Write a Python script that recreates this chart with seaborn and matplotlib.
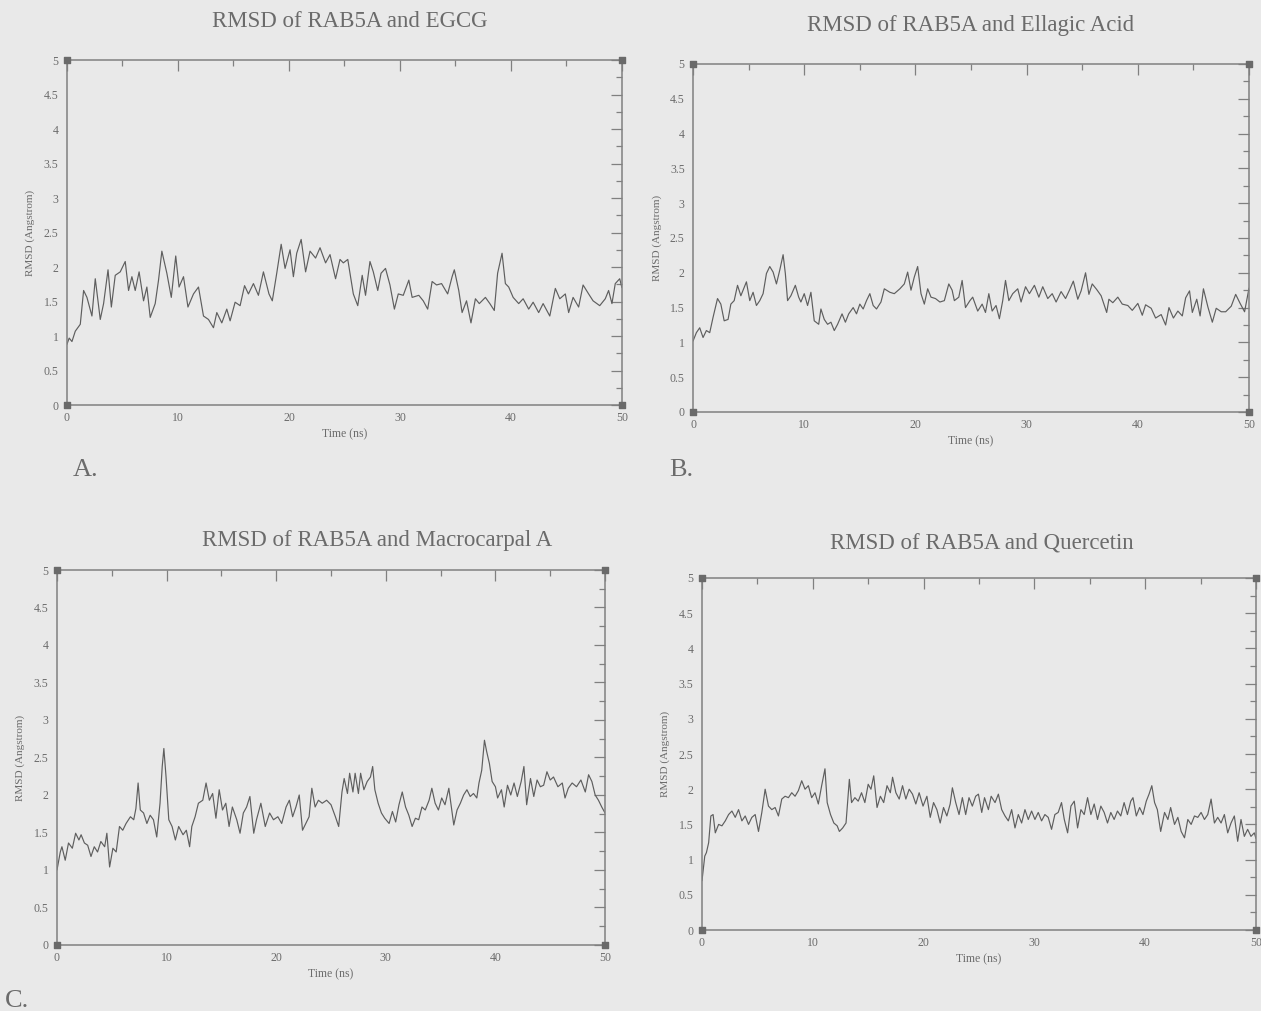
import matplotlib
matplotlib.use("Agg")
import matplotlib.pyplot as plt
from matplotlib.ticker import MultipleLocator, FuncFormatter
import seaborn as sns
import pandas as pd

# ---- RMSD traces (time in ns, RMSD in Angstrom) ----
time_egcg = [
    0.0, 0.2, 0.45, 0.75, 1.2, 1.5, 1.8, 2.25, 2.55, 3.0,
    3.3, 3.7, 4.0, 4.35, 4.8, 5.25, 5.55, 5.85, 6.15, 6.5,
    6.9, 7.2, 7.5, 7.95, 8.25, 8.55, 9.0, 9.4, 9.8, 10.1,
    10.5, 10.9, 11.4, 11.85, 12.3, 12.75, 13.2, 13.5, 13.95, 14.4,
    14.7, 15.15, 15.6, 16.0, 16.35, 16.8, 17.25, 17.7, 18.2, 18.5,
    18.9, 19.3, 19.65, 20.1, 20.4, 20.7, 21.1, 21.5, 21.9, 22.4,
    22.8, 23.3, 23.7, 24.2, 24.6, 24.9, 25.3, 25.8, 26.2, 26.6,
    26.9, 27.3, 27.6, 28.0, 28.3, 28.7, 29.1, 29.5, 29.85, 30.3,
    30.8, 31.1, 31.7, 32.1, 32.5, 32.9, 33.3, 33.75, 34.3, 34.7,
    34.9, 35.3, 35.6, 36.0, 36.4, 36.8, 37.15, 37.7, 38.1, 38.5,
    38.8, 39.2, 39.5, 39.8, 40.2, 40.7, 41.1, 41.6, 42.0, 42.5,
    42.9, 43.5, 44.0, 44.4, 44.9, 45.2, 45.6, 46.1, 46.5, 47.0,
    47.4, 48.0, 48.5, 48.8, 49.1, 49.4, 49.8, 50.0,
]
rmsd_egcg = [
    0.88, 0.97, 0.92, 1.07, 1.17, 1.66, 1.56, 1.29, 1.83, 1.24,
    1.47, 1.96, 1.42, 1.88, 1.93, 2.08, 1.66, 1.86, 1.66, 1.93,
    1.51, 1.71, 1.27, 1.47, 1.81, 2.23, 1.91, 1.56, 2.16, 1.71,
    1.86, 1.42, 1.61, 1.71, 1.29, 1.24, 1.12, 1.34, 1.19, 1.39,
    1.22, 1.49, 1.44, 1.73, 1.61, 1.76, 1.59, 1.93, 1.61, 1.51,
    1.91, 2.33, 1.98, 2.25, 1.86, 2.20, 2.40, 1.93, 2.23, 2.13,
    2.28, 2.06, 2.18, 1.83, 2.11, 2.06, 2.11, 1.61, 1.44, 1.88,
    1.59, 2.08, 1.93, 1.66, 1.91, 1.98, 1.74, 1.39, 1.61, 1.59,
    1.81, 1.56, 1.59, 1.51, 1.39, 1.79, 1.74, 1.76, 1.61, 1.86,
    1.96, 1.66, 1.34, 1.51, 1.19, 1.54, 1.47, 1.56, 1.47, 1.37,
    1.91, 2.20, 1.76, 1.71, 1.56, 1.47, 1.54, 1.39, 1.49, 1.34,
    1.47, 1.29, 1.69, 1.54, 1.61, 1.34, 1.56, 1.42, 1.74, 1.61,
    1.51, 1.44, 1.54, 1.66, 1.47, 1.76, 1.83, 1.70,
]

time_ellagic = [
    0.0, 0.3, 0.6, 0.9, 1.2, 1.5, 1.8, 2.2, 2.5, 2.8,
    3.15, 3.4, 3.7, 4.0, 4.3, 4.6, 4.8, 5.1, 5.4, 5.7,
    6.0, 6.3, 6.6, 6.9, 7.2, 7.5, 7.8, 8.1, 8.3, 8.5,
    8.8, 9.2, 9.5, 9.7, 10.0, 10.3, 10.6, 10.9, 11.3, 11.5,
    11.8, 12.1, 12.4, 12.7, 13.0, 13.4, 13.7, 14.0, 14.4, 14.7,
    15.0, 15.3, 15.6, 15.9, 16.2, 16.5, 16.9, 17.2, 17.7, 18.1,
    18.6, 19.0, 19.3, 19.6, 19.9, 20.2, 20.5, 20.8, 21.1, 21.4,
    21.8, 22.2, 22.6, 23.0, 23.3, 23.5, 23.9, 24.2, 24.5, 24.9,
    25.15, 25.6, 26.0, 26.3, 26.6, 26.9, 27.25, 27.55, 27.85, 28.1,
    28.4, 28.75, 29.2, 29.5, 29.9, 30.25, 30.7, 31.1, 31.45, 31.9,
    32.3, 32.65, 33.1, 33.5, 33.85, 34.2, 34.6, 34.9, 35.3, 35.6,
    35.9, 36.3, 36.7, 37.2, 37.4, 37.75, 38.2, 38.6, 39.1, 39.5,
    40.0, 40.4, 40.7, 41.2, 41.6, 42.1, 42.5, 42.8, 43.2, 43.6,
    44.0, 44.3, 44.65, 44.9, 45.3, 45.6, 45.9, 46.3, 46.7, 47.05,
    47.5, 47.9, 48.4, 48.8, 49.2, 49.6, 50.0,
]
rmsd_ellagic = [
    1.02, 1.14, 1.21, 1.07, 1.17, 1.14, 1.36, 1.63, 1.55, 1.31,
    1.33, 1.55, 1.60, 1.82, 1.67, 1.79, 1.87, 1.60, 1.72, 1.53,
    1.60, 1.70, 1.99, 2.09, 2.01, 1.84, 2.04, 2.26, 1.99, 1.60,
    1.67, 1.82, 1.65, 1.58, 1.70, 1.53, 1.72, 1.31, 1.26, 1.48,
    1.33, 1.26, 1.29, 1.17, 1.26, 1.41, 1.29, 1.41, 1.50, 1.41,
    1.55, 1.48, 1.60, 1.70, 1.53, 1.48, 1.58, 1.77, 1.72, 1.70,
    1.77, 1.84, 2.01, 1.75, 1.94, 2.09, 1.70, 1.55, 1.77, 1.65,
    1.63, 1.58, 1.60, 1.84, 1.75, 1.60, 1.65, 1.89, 1.50, 1.60,
    1.65, 1.45, 1.55, 1.43, 1.70, 1.45, 1.53, 1.34, 1.60, 1.89,
    1.60, 1.70, 1.77, 1.58, 1.80, 1.70, 1.82, 1.65, 1.80, 1.63,
    1.70, 1.58, 1.73, 1.63, 1.75, 1.88, 1.62, 1.74, 2.00, 1.69,
    1.84, 1.76, 1.67, 1.43, 1.62, 1.57, 1.65, 1.55, 1.53, 1.46,
    1.56, 1.39, 1.54, 1.49, 1.35, 1.40, 1.25, 1.50, 1.35, 1.45,
    1.38, 1.64, 1.74, 1.43, 1.62, 1.38, 1.77, 1.51, 1.29, 1.49,
    1.44, 1.44, 1.52, 1.69, 1.56, 1.44, 1.78,
]

time_macrocarpal = [
    0.0, 0.3, 0.45, 0.75, 1.05, 1.4, 1.7, 2.0, 2.2, 2.5,
    2.8, 3.1, 3.4, 3.7, 4.0, 4.35, 4.55, 4.8, 5.1, 5.4,
    5.7, 6.0, 6.3, 6.7, 7.0, 7.2, 7.4, 7.6, 7.9, 8.2,
    8.5, 8.8, 9.1, 9.4, 9.6, 9.75, 9.95, 10.2, 10.5, 10.8,
    11.1, 11.5, 11.8, 12.1, 12.3, 12.6, 12.9, 13.3, 13.6, 13.9,
    14.2, 14.5, 14.8, 15.1, 15.4, 15.7, 16.0, 16.4, 16.7, 17.0,
    17.3, 17.6, 17.95, 18.2, 18.6, 19.0, 19.4, 19.75, 20.15, 20.5,
    20.9, 21.2, 21.5, 21.8, 22.1, 22.4, 22.7, 23.0, 23.25, 23.55,
    23.85, 24.2, 24.6, 25.0, 25.4, 25.7, 26.0, 26.2, 26.5, 26.7,
    27.0, 27.2, 27.5, 27.7, 28.0, 28.3, 28.6, 28.8, 29.0, 29.3,
    29.6, 29.9, 30.3, 30.6, 30.9, 31.2, 31.5, 31.8, 32.1, 32.4,
    32.7, 33.0, 33.3, 33.6, 33.95, 34.2, 34.5, 34.8, 35.1, 35.4,
    35.75, 36.2, 36.5, 36.8, 37.1, 37.4, 37.7, 38.0, 38.3, 38.5,
    38.75, 39.0, 39.2, 39.45, 39.7, 40.0, 40.2, 40.55, 40.8, 41.1,
    41.4, 41.7, 42.0, 42.35, 42.6, 42.85, 43.2, 43.5, 43.8, 44.1,
    44.4, 44.7, 45.0, 45.3, 45.7, 46.1, 46.35, 46.65, 47.0, 47.4,
    47.8, 48.2, 48.5, 48.8, 49.1, 49.4, 49.7, 50.0,
]
rmsd_macrocarpal = [
    1.00, 1.24, 1.31, 1.13, 1.36, 1.29, 1.49, 1.40, 1.47, 1.36,
    1.33, 1.18, 1.31, 1.24, 1.38, 1.31, 1.49, 1.04, 1.29, 1.24,
    1.58, 1.53, 1.62, 1.71, 1.67, 1.82, 2.16, 1.80, 1.76, 1.62,
    1.73, 1.67, 1.44, 1.89, 2.38, 2.62, 2.24, 1.67, 1.58, 1.40,
    1.58, 1.47, 1.53, 1.31, 1.58, 1.71, 1.89, 1.93, 2.16, 1.93,
    2.02, 1.69, 2.07, 1.80, 1.89, 1.58, 1.84, 1.67, 1.49, 1.76,
    1.84, 1.98, 1.49, 1.67, 1.89, 1.58, 1.76, 1.67, 1.71, 1.62,
    1.84, 1.93, 1.71, 1.84, 2.00, 1.53, 1.62, 1.71, 2.09, 1.84,
    1.93, 1.89, 1.93, 1.87, 1.71, 1.58, 2.04, 2.22, 2.02, 2.29,
    2.04, 2.29, 2.02, 2.29, 2.07, 2.18, 2.24, 2.38, 2.07, 1.89,
    1.76, 1.69, 1.62, 1.78, 1.64, 1.87, 2.04, 1.84, 1.73, 1.58,
    1.69, 1.67, 1.84, 1.80, 1.93, 2.09, 1.89, 1.80, 1.96, 1.87,
    2.09, 1.60, 1.80, 1.89, 2.00, 2.07, 1.98, 2.02, 1.96, 2.16,
    2.33, 2.73, 2.58, 2.42, 2.18, 2.11, 1.96, 2.07, 1.84, 2.13,
    2.00, 2.16, 1.98, 2.18, 2.38, 1.87, 2.22, 1.98, 2.20, 2.11,
    2.13, 2.31, 2.20, 2.24, 2.11, 2.16, 1.96, 2.09, 2.16, 2.11,
    2.20, 2.04, 2.27, 2.18, 2.00, 1.93, 1.84, 1.76,
]

time_quercetin = [
    0.0, 0.25, 0.4, 0.6, 0.8, 1.0, 1.2, 1.5, 1.8, 2.1,
    2.4, 2.7, 3.0, 3.3, 3.6, 3.9, 4.2, 4.5, 4.8, 5.1,
    5.4, 5.7, 6.0, 6.3, 6.6, 6.9, 7.2, 7.5, 7.8, 8.1,
    8.4, 8.7, 9.0, 9.3, 9.6, 9.9, 10.2, 10.5, 10.8, 11.1,
    11.3, 11.6, 11.9, 12.2, 12.4, 12.7, 13.0, 13.3, 13.5, 13.8,
    14.1, 14.4, 14.7, 15.0, 15.25, 15.5, 15.8, 16.1, 16.4, 16.7,
    17.0, 17.2, 17.5, 17.8, 18.1, 18.4, 18.7, 19.0, 19.3, 19.6,
    19.95, 20.3, 20.6, 20.9, 21.2, 21.5, 21.8, 22.1, 22.4, 22.6,
    22.9, 23.2, 23.5, 23.8, 24.1, 24.4, 24.7, 24.95, 25.25, 25.5,
    25.85, 26.1, 26.45, 26.75, 27.05, 27.35, 27.65, 27.95, 28.25, 28.55,
    28.85, 29.15, 29.45, 29.75, 30.05, 30.35, 30.65, 30.95, 31.25, 31.55,
    31.85, 32.15, 32.45, 32.7, 33.0, 33.3, 33.6, 33.9, 34.2, 34.5,
    34.8, 35.1, 35.4, 35.7, 36.0, 36.3, 36.6, 36.9, 37.2, 37.5,
    37.8, 38.1, 38.4, 38.7, 38.9, 39.2, 39.5, 39.8, 40.1, 40.35,
    40.6, 40.85, 41.1, 41.4, 41.75, 42.05, 42.3, 42.65, 42.95, 43.25,
    43.55, 43.85, 44.15, 44.45, 44.75, 45.05, 45.35, 45.65, 45.95, 46.25,
    46.55, 46.85, 47.15, 47.45, 47.75, 48.05, 48.35, 48.65, 48.95, 49.25,
    49.55, 49.85, 50.0,
]
rmsd_quercetin = [
    0.70, 1.05, 1.10, 1.24, 1.62, 1.64, 1.38, 1.50, 1.48, 1.55,
    1.64, 1.69, 1.60, 1.71, 1.55, 1.62, 1.50, 1.60, 1.64, 1.40,
    1.67, 2.00, 1.76, 1.71, 1.74, 1.62, 1.86, 1.90, 1.88, 1.95,
    1.90, 1.98, 2.12, 2.00, 2.05, 1.88, 1.95, 1.79, 2.05, 2.29,
    1.81, 1.64, 1.52, 1.48, 1.40, 1.45, 1.52, 2.14, 1.81, 1.88,
    1.83, 1.95, 1.81, 2.07, 2.00, 2.19, 1.74, 1.90, 1.81, 2.05,
    1.95, 2.17, 1.95, 1.86, 2.05, 1.86, 2.00, 1.93, 1.79, 1.95,
    1.76, 1.90, 1.60, 1.81, 1.71, 1.52, 1.74, 1.62, 1.79, 2.02,
    1.81, 1.64, 1.88, 1.64, 1.88, 1.76, 1.90, 1.93, 1.67, 1.88,
    1.71, 1.90, 1.81, 1.93, 1.71, 1.62, 1.55, 1.71, 1.45, 1.64,
    1.52, 1.71, 1.57, 1.69, 1.57, 1.67, 1.55, 1.64, 1.60, 1.43,
    1.64, 1.67, 1.81, 1.57, 1.38, 1.76, 1.83, 1.45, 1.71, 1.64,
    1.88, 1.64, 1.79, 1.57, 1.76, 1.67, 1.52, 1.67, 1.57, 1.69,
    1.62, 1.81, 1.64, 1.83, 1.88, 1.62, 1.74, 1.64, 1.83, 1.93,
    2.05, 1.81, 1.71, 1.40, 1.67, 1.57, 1.74, 1.50, 1.60, 1.40,
    1.31, 1.57, 1.50, 1.62, 1.60, 1.67, 1.57, 1.64, 1.86, 1.52,
    1.60, 1.52, 1.64, 1.38, 1.52, 1.62, 1.26, 1.57, 1.33, 1.43,
    1.33, 1.38, 1.30,
]

titles = [
    "RMSD of RAB5A and EGCG",
    "RMSD of RAB5A and Ellagic Acid",
    "RMSD of RAB5A and Macrocarpal A",
    "RMSD of RAB5A and Quercetin",
]
x_label = "Time (ns)"
y_label = "RMSD (Angstrom)"
x_limits = (0, 50)
y_limits = (0, 5)

# ---- styling ----
PAGE = "#e9e9e9"
INK = "#5e5e5e"
AXIS = "#808080"
TEXT = "#6b6b6b"

sns.set_theme(style="white")
plt.rcParams["font.family"] = ["Liberation Serif", "DejaVu Serif"]

fig = plt.figure(figsize=(12.61, 10.11), dpi=100, facecolor=PAGE)

# axes rectangles in figure fractions: left, bottom, width, height
rects = [
    [0.0531, 0.5994, 0.4401, 0.3412],
    [0.5496, 0.5925, 0.4409, 0.3442],
    [0.0452, 0.0653, 0.4346, 0.3709],
    [0.5567, 0.0801, 0.4393, 0.3482],
]
# title placement: horizontal anchor (axes fraction) and gap above the frame (pt)
title_x = [0.51, 0.50, 0.584, 0.505]
title_pad = [23.5, 24.0, 17.5, 21.0]

series = [
    (time_egcg, rmsd_egcg),
    (time_ellagic, rmsd_ellagic),
    (time_macrocarpal, rmsd_macrocarpal),
    (time_quercetin, rmsd_quercetin),
]

fmt = FuncFormatter(lambda v, _: f"{v:g}")

for rect, (tt, rr), title, tx, tp in zip(rects, series, titles, title_x, title_pad):
    ax = fig.add_axes(rect)
    ax.set_facecolor("none")
    df = pd.DataFrame({"time": tt, "rmsd": rr})
    sns.lineplot(data=df, x="time", y="rmsd", ax=ax, color=INK,
                 linewidth=0.85, estimator=None, sort=False)
    ax.set_xlim(*x_limits)
    ax.set_ylim(*y_limits)
    ax.xaxis.set_major_locator(MultipleLocator(10))
    ax.xaxis.set_minor_locator(MultipleLocator(5))
    ax.yaxis.set_major_locator(MultipleLocator(0.5))
    ax.yaxis.set_minor_locator(MultipleLocator(0.25))
    ax.xaxis.set_major_formatter(fmt)
    ax.yaxis.set_major_formatter(fmt)
    ax.tick_params(which="both", direction="in", top=True, right=True,
                   color=AXIS, width=0.9, labelcolor=TEXT, labelsize=8.5)
    ax.tick_params(which="major", length=8)
    ax.tick_params(axis="x", which="major", pad=5)
    ax.tick_params(axis="y", which="major", pad=6)
    ax.tick_params(which="minor", length=4)
    for sp in ax.spines.values():
        sp.set_visible(True)
        sp.set_color(AXIS)
        sp.set_linewidth(1.1)
    ax.set_xlabel(x_label, color=TEXT, fontsize=8.5, labelpad=3)
    ax.set_ylabel(y_label, color=TEXT, fontsize=8, labelpad=6)
    ax.set_title(title, color=TEXT, fontsize=16.5, pad=tp, x=tx)
    # small square handles at the frame corners
    ax.scatter([x_limits[0], x_limits[0], x_limits[1], x_limits[1]],
               [y_limits[0], y_limits[1], y_limits[0], y_limits[1]],
               marker="s", s=14, color="#6a6a6a", clip_on=False, zorder=5)

# panel letters
fig.text(0.058, 0.535, "A.", color=TEXT, fontsize=19, ha="left", va="center")
fig.text(0.531, 0.535, "B.", color=TEXT, fontsize=19, ha="left", va="center")
fig.text(0.004, 0.010, "C.", color=TEXT, fontsize=19, ha="left", va="center")

fig.savefig("out.png", dpi=100, facecolor=PAGE)
